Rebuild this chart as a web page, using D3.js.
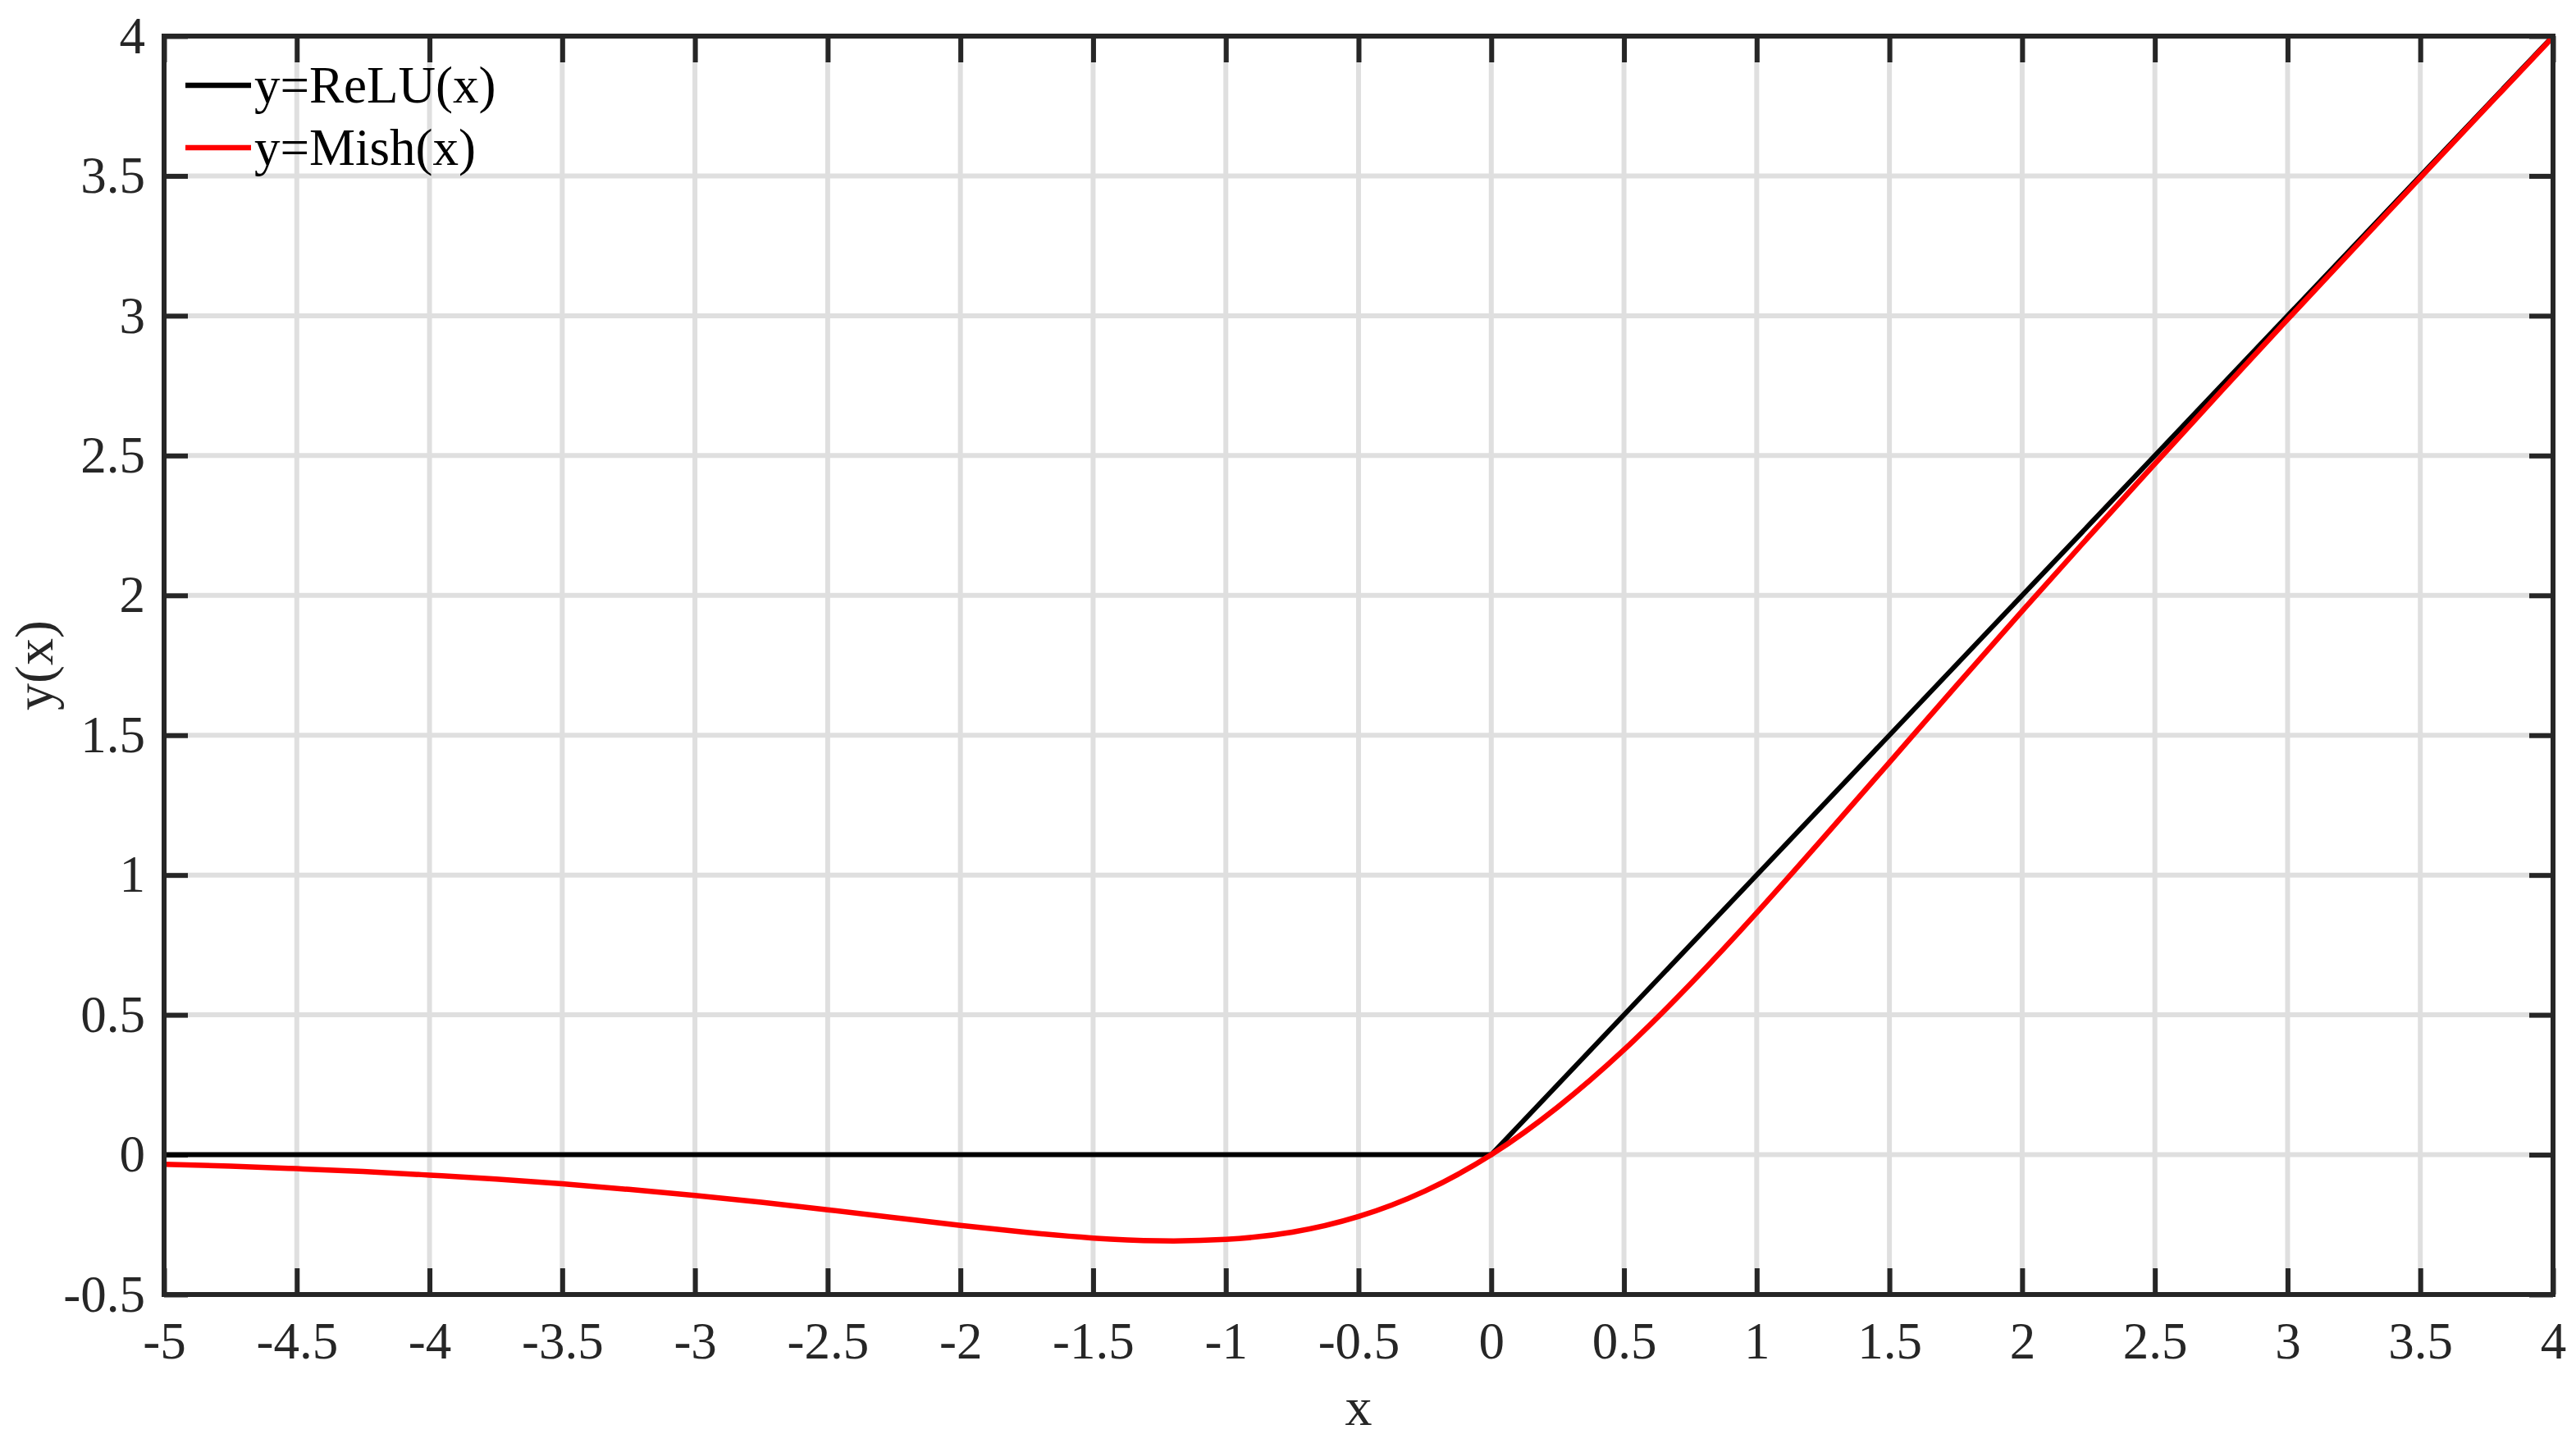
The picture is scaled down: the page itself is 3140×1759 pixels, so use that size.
<!DOCTYPE html>
<html>
<head>
<meta charset="utf-8">
<script src="https://cdn.jsdelivr.net/npm/d3@7"></script>
<style>
  body { margin: 0; background: #fff; }
  svg text { font-family: "Liberation Serif", "DejaVu Serif", serif; fill: #262626; }
</style>
</head>
<body>
<div id="container"></div>
<script>
// values
var xTicks = [-5, -4.5, -4, -3.5, -3, -2.5, -2, -1.5, -1, -0.5, 0, 0.5, 1, 1.5, 2, 2.5, 3, 3.5, 4];
var yTicks = [-0.5, 0, 0.5, 1, 1.5, 2, 2.5, 3, 3.5, 4];

var reluX = [-5, 0, 4];
var reluY = [0, 0, 4];

var mishX = [-5, -4.75, -4.5, -4.25, -4, -3.75, -3.5, -3.25, -3, -2.75, -2.5, -2.25, -2, -1.75,
    -1.5, -1.25, -1, -0.75, -0.5, -0.25, 0, 0.25, 0.5, 0.75, 1, 1.25, 1.5, 1.75, 2, 2.25,
    2.5, 2.75, 3, 3.25, 3.5, 3.75, 4];
var mishY = [-0.034, -0.041, -0.050, -0.060, -0.073, -0.087, -0.104, -0.124, -0.146, -0.170,
    -0.197, -0.225, -0.253, -0.278, -0.298, -0.308, -0.303, -0.277, -0.221, -0.130, 0,
    0.170, 0.375, 0.610, 0.865, 1.132, 1.403, 1.675, 1.944, 2.209, 2.471, 2.730, 2.987,
    3.241, 3.494, 3.746, 3.997];

var legendNames = ['y=ReLU(x)', 'y=Mish(x)'];
var legendColors = ['#000000', '#ff0000'];

var W = 3140, H = 1759;
var plotL = 200, plotR = 3112, plotT = 44, plotB = 1578;
var axisColor = '#262626';
var fontSize = 63;

var svg = d3.select('#container')
    .append('svg')
    .attr('width', W)
    .attr('height', H);

var x = d3.scaleLinear().domain([-5, 4]).range([plotL, plotR]);
var y = d3.scaleLinear().domain([-0.5, 4]).range([plotB, plotT]);

// grid
svg.append('g')
    .selectAll('line')
    .data(xTicks)
    .enter().append('line')
    .attr('x1', d => x(d)).attr('x2', d => x(d))
    .attr('y1', plotT).attr('y2', plotB)
    .attr('stroke', '#dfdfdf')
    .attr('stroke-width', 6);

svg.append('g')
    .selectAll('line')
    .data(yTicks)
    .enter().append('line')
    .attr('y1', d => y(d)).attr('y2', d => y(d))
    .attr('x1', plotL).attr('x2', plotR)
    .attr('stroke', '#dfdfdf')
    .attr('stroke-width', 6);

function styleAxis(g) {
    g.select('.domain').remove();
    g.selectAll('.tick line').attr('stroke', axisColor).attr('stroke-width', 6);
    g.selectAll('.tick text')
        .attr('font-size', fontSize)
        .style('font-family', '"Liberation Serif", serif')
        .attr('fill', axisColor);
}

var fmt = d => String(d);

svg.append('g')
    .attr('transform', 'translate(0,' + plotB + ')')
    .call(d3.axisBottom(x).tickValues(xTicks).tickFormat(fmt).tickSize(-32).tickPadding(33))
    .call(styleAxis);

svg.append('g')
    .attr('transform', 'translate(0,' + plotT + ')')
    .call(d3.axisTop(x).tickValues(xTicks).tickFormat('').tickSize(-32))
    .call(styleAxis);

svg.append('g')
    .attr('transform', 'translate(' + plotL + ',0)')
    .call(d3.axisLeft(y).tickValues(yTicks).tickFormat(fmt).tickSize(-29).tickPadding(23))
    .call(styleAxis);

svg.append('g')
    .attr('transform', 'translate(' + plotR + ',0)')
    .call(d3.axisRight(y).tickValues(yTicks).tickFormat('').tickSize(-29))
    .call(styleAxis);

// curves
var line = d3.line()
    .x(d => x(d[0]))
    .y(d => y(d[1]));

svg.append('path')
    .attr('d', line.curve(d3.curveLinear)(d3.zip(reluX, reluY)))
    .attr('fill', 'none')
    .attr('stroke', legendColors[0])
    .attr('stroke-width', 6);

svg.append('path')
    .attr('d', line.curve(d3.curveNatural)(d3.zip(mishX, mishY)))
    .attr('fill', 'none')
    .attr('stroke', legendColors[1])
    .attr('stroke-width', 6.5);

// box
svg.append('rect')
    .attr('x', plotL).attr('y', plotT)
    .attr('width', plotR - plotL).attr('height', plotB - plotT)
    .attr('fill', 'none')
    .attr('stroke', axisColor)
    .attr('stroke-width', 6);

// legend
var leg = svg.append('g')
    .selectAll('g')
    .data(legendNames)
    .enter().append('g')
    .attr('transform', (d, i) => 'translate(0,' + (104 + i * 76) + ')');

leg.append('line')
    .attr('x1', 226).attr('x2', 306)
    .attr('stroke', (d, i) => legendColors[i])
    .attr('stroke-width', 6.5);

leg.append('text')
    .attr('x', 310)
    .attr('dy', '0.33em')
    .attr('font-size', fontSize)
    .style('fill', '#000')
    .text(d => d);

// axis titles
svg.append('text')
    .attr('x', (plotL + plotR) / 2)
    .attr('y', 1737)
    .attr('text-anchor', 'middle')
    .attr('font-size', fontSize + 3)
    .text('x');

svg.append('text')
    .attr('transform', 'translate(64,' + (plotT + plotB) / 2 + ') rotate(-90)')
    .attr('text-anchor', 'middle')
    .attr('font-size', fontSize + 3)
    .text('y(x)');
</script>
</body>
</html>
